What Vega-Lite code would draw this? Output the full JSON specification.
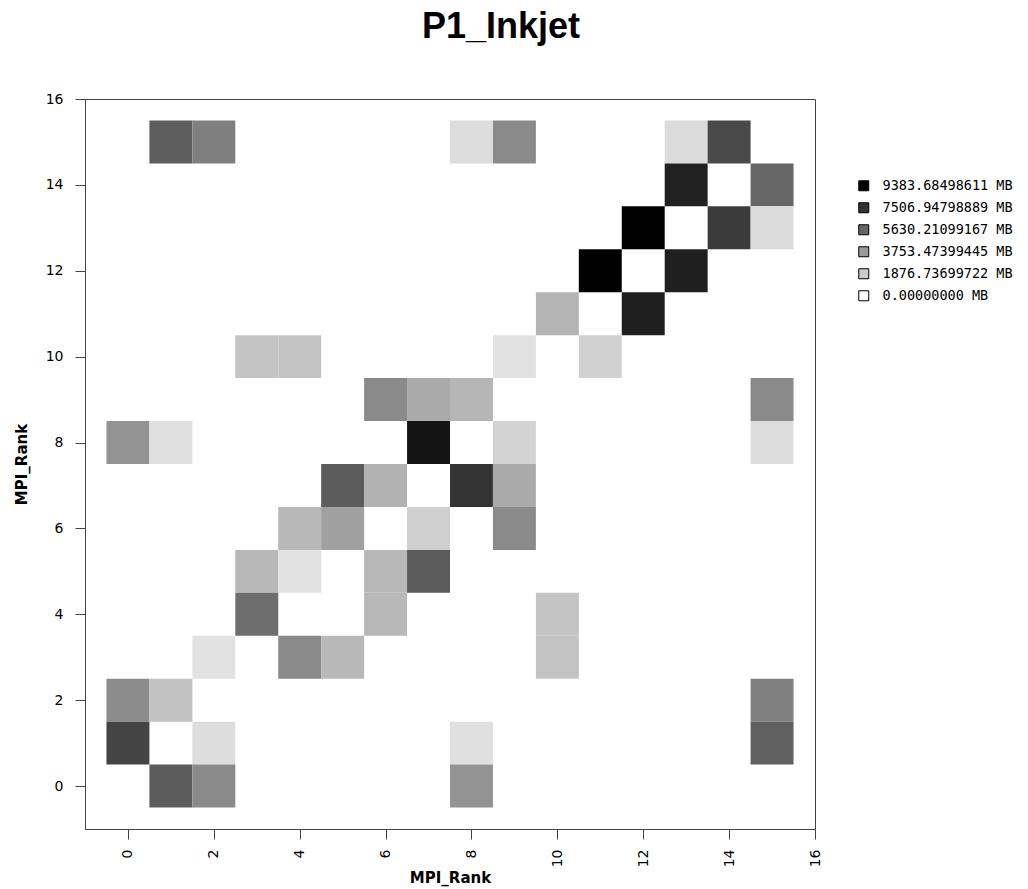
{
  "$schema": "https://vega.github.io/schema/vega-lite/v6.json",
  "width": 730,
  "height": 730,
  "autosize": {"type": "none"},
  "padding": {"left": 85, "top": 99, "right": 213, "bottom": 60},
  "background": "white",
  "title": {"text": "P1_Inkjet", "font": "Liberation Sans", "fontSize": 36, "fontWeight": "bold", "color": "black", "anchor": "middle", "dx": 51, "offset": 18, "baseline": "alphabetic"},
  "data": {"values": [
    {"x": 1, "y": 15, "mb": 5924.5}, {"x": 2, "y": 15, "mb": 4710.4}, {"x": 8, "y": 15, "mb": 1251.2}, {"x": 9, "y": 15, "mb": 4305.6}, {"x": 13, "y": 15, "mb": 1324.8}, {"x": 14, "y": 15, "mb": 6660.5},
    {"x": 13, "y": 14, "mb": 8169.3}, {"x": 15, "y": 14, "mb": 5630.2},
    {"x": 12, "y": 13, "mb": 9383.68}, {"x": 14, "y": 13, "mb": 7212.3}, {"x": 15, "y": 13, "mb": 1324.8},
    {"x": 11, "y": 12, "mb": 9383.68}, {"x": 13, "y": 12, "mb": 8242.9},
    {"x": 10, "y": 11, "mb": 2759.9}, {"x": 12, "y": 11, "mb": 8242.9},
    {"x": 3, "y": 10, "mb": 2171.1}, {"x": 4, "y": 10, "mb": 2171.1}, {"x": 9, "y": 10, "mb": 1067.2}, {"x": 11, "y": 10, "mb": 1692.7},
    {"x": 6, "y": 9, "mb": 4305.6}, {"x": 7, "y": 9, "mb": 3127.9}, {"x": 8, "y": 9, "mb": 2686.3}, {"x": 15, "y": 9, "mb": 4305.6},
    {"x": 0, "y": 8, "mb": 3974.3}, {"x": 1, "y": 8, "mb": 1140.8}, {"x": 7, "y": 8, "mb": 8647.7}, {"x": 9, "y": 8, "mb": 1619.1}, {"x": 15, "y": 8, "mb": 1251.2},
    {"x": 5, "y": 7, "mb": 5998.1}, {"x": 6, "y": 7, "mb": 2833.5}, {"x": 8, "y": 7, "mb": 7506.9}, {"x": 9, "y": 7, "mb": 3127.9},
    {"x": 4, "y": 6, "mb": 2612.7}, {"x": 5, "y": 6, "mb": 3495.9}, {"x": 7, "y": 6, "mb": 1766.3}, {"x": 9, "y": 6, "mb": 4305.6},
    {"x": 3, "y": 5, "mb": 2612.7}, {"x": 4, "y": 5, "mb": 1067.2}, {"x": 6, "y": 5, "mb": 2612.7}, {"x": 7, "y": 5, "mb": 5998.1},
    {"x": 3, "y": 4, "mb": 5335.8}, {"x": 6, "y": 4, "mb": 2612.7}, {"x": 10, "y": 4, "mb": 2171.1},
    {"x": 2, "y": 3, "mb": 1067.2}, {"x": 4, "y": 3, "mb": 4305.6}, {"x": 5, "y": 3, "mb": 2612.7}, {"x": 10, "y": 3, "mb": 2171.1},
    {"x": 0, "y": 2, "mb": 4232.0}, {"x": 1, "y": 2, "mb": 2244.7}, {"x": 15, "y": 2, "mb": 4673.6},
    {"x": 0, "y": 1, "mb": 6881.3}, {"x": 2, "y": 1, "mb": 1251.2}, {"x": 8, "y": 1, "mb": 1140.8}, {"x": 15, "y": 1, "mb": 5850.9},
    {"x": 1, "y": 0, "mb": 5998.1}, {"x": 2, "y": 0, "mb": 4305.6}, {"x": 8, "y": 0, "mb": 3974.3}
  ]},
  "mark": {"type": "rect", "width": 42.94, "height": 42.94},
  "encoding": {
    "x": {
      "field": "x", "type": "quantitative",
      "scale": {"domain": [-1, 16], "nice": false, "zero": false},
      "axis": {
        "values": [0, 2, 4, 6, 8, 10, 12, 14, 16], "grid": false,
        "tickSize": 10, "labelAngle": -90, "labelPadding": 10,
        "labelFont": "DejaVu Sans", "labelFontSize": 14, "labelColor": "black",
        "domainColor": "#444", "tickColor": "#444",
        "title": "MPI_Rank", "titleFont": "DejaVu Sans", "titleFontSize": 15, "titleFontWeight": "bold", "titleColor": "black", "titlePadding": 4
      }
    },
    "y": {
      "field": "y", "type": "quantitative",
      "scale": {"domain": [-1, 16], "nice": false, "zero": false},
      "axis": {
        "values": [0, 2, 4, 6, 8, 10, 12, 14, 16], "grid": false,
        "tickSize": 10, "labelPadding": 12,
        "labelFont": "DejaVu Sans", "labelFontSize": 14, "labelColor": "black",
        "domainColor": "#444", "tickColor": "#444",
        "title": "MPI_Rank", "titleFont": "DejaVu Sans", "titleFontSize": 15, "titleFontWeight": "bold", "titleColor": "black", "titlePadding": 16
      }
    },
    "color": {
      "field": "mb", "type": "quantitative",
      "scale": {"type": "linear", "domain": [0, 9383.68498611], "range": ["#ffffff", "#000000"], "interpolate": "rgb"},
      "legend": {
        "type": "symbol", "title": null,
        "values": [9383.68498611, 7506.94798889, 5630.21099167, 3753.47399445, 1876.73699722, 0],
        "labelExpr": "format(datum.value, '.8f') + ' MB'",
        "orient": "none", "legendX": 772, "legendY": 80, "padding": 0,
        "symbolType": "square", "symbolSize": 100, "symbolStrokeColor": "black", "symbolStrokeWidth": 1,
        "labelFont": "DejaVu Sans Mono", "labelFontSize": 13.5, "labelColor": "black", "labelOffset": 12,
        "rowPadding": 7
      }
    }
  },
  "config": {"view": {"stroke": "#444", "strokeWidth": 1}}
}
